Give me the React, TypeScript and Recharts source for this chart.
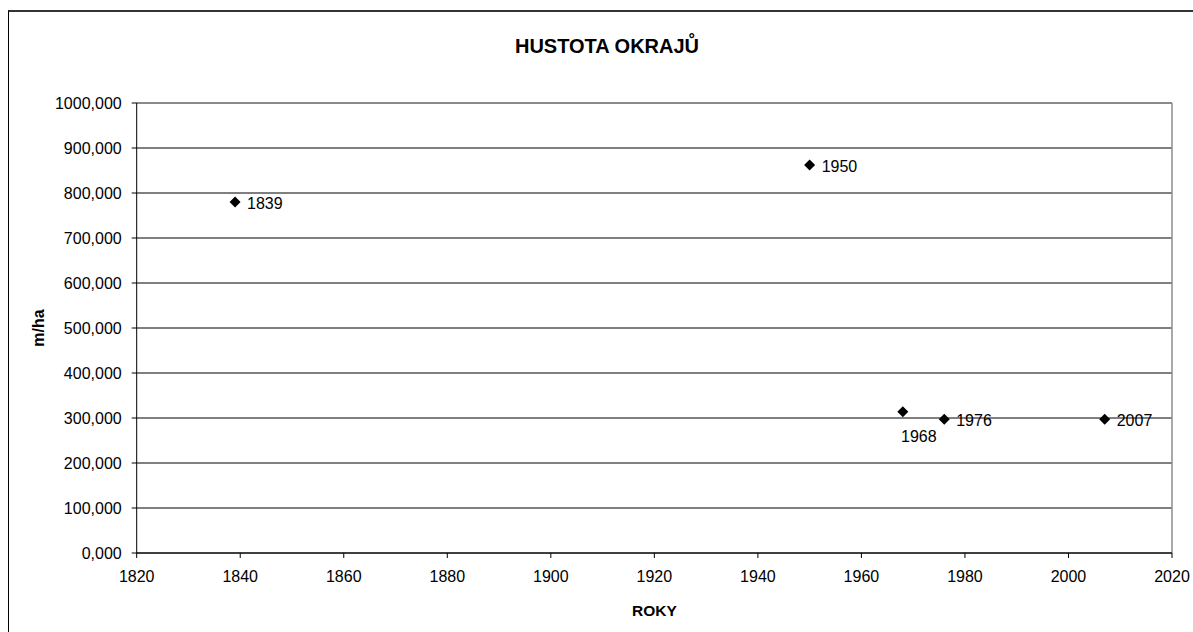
import React from 'react';
import {
  ScatterChart,
  Scatter,
  XAxis,
  YAxis,
  CartesianGrid,
  ReferenceLine,
  LabelList,
  Label
} from 'recharts';

// values (m/ha)
const years = [1839, 1950, 1968, 1976, 2007];
const densities = [780, 862, 314, 297, 297];
const pointLabels = ['1839', '1950', '1968', '1976', '2007'];

const xTicks = [1820, 1840, 1860, 1880, 1900, 1920, 1940, 1960, 1980, 2000, 2020];
const yTicks = [0, 100, 200, 300, 400, 500, 600, 700, 800, 900, 1000];

// the one label Excel put under its marker
const labelsBelow = ['1968'];

const data = years.map((year, i) => ({ year, value: densities[i], label: pointLabels[i] }));

const FONT = 'Arial, "Liberation Sans", sans-serif';

const Diamond = (props: any) => {
  const { cx, cy } = props;
  if (cx == null || cy == null) return null;
  const r = 5.5;
  return (
    <polygon
      points={`${cx},${cy - r} ${cx + r},${cy} ${cx},${cy + r} ${cx - r},${cy}`}
      fill="#000"
    />
  );
};

const PointLabel = (props: any) => {
  const { x, y, width, height, value } = props;
  const cx = x + (width || 0) / 2;
  const cy = y + (height || 0) / 2;
  if (labelsBelow.includes(String(value))) {
    return (
      <text x={cx + 16} y={cy + 25} textAnchor="middle" dominantBaseline="central" fontSize={16} fill="#000" fontFamily={FONT}>
        {value}
      </text>
    );
  }
  return (
    <text x={cx + 12} y={cy + 1} textAnchor="start" dominantBaseline="central" fontSize={16} fill="#000" fontFamily={FONT}>
      {value}
    </text>
  );
};

const fmt = (v: number) => v.toFixed(3).replace('.', ',');

export default function App() {
  // fixed to the viewport so nothing overflows into scrollbars
  return (
    <div style={{ position: 'fixed', left: 0, top: 0, width: 1193, height: 632, fontFamily: FONT, overflow: 'hidden', background: '#fff' }}>
      {/* outer chart frame, right and bottom edges fall outside the page */}
      <div
        style={{
          position: 'absolute',
          left: 8,
          top: 10,
          width: 1300,
          height: 800,
          borderTop: '2px solid #333',
          borderLeft: '1px solid #000'
        }}
      />
      <div
        style={{
          position: 'absolute',
          left: 8,
          width: 1185,
          boxSizing: 'border-box',
          top: 35,
          textAlign: 'center',
          paddingLeft: 13,
          fontSize: 20,
          fontWeight: 'bold',
          color: '#000'
        }}
      >
        HUSTOTA OKRAJŮ
      </div>
      <div style={{ position: 'absolute', left: 8, top: 8 }}>
        <ScatterChart width={1185} height={624} margin={{ top: 95, right: 21, bottom: 9, left: 0 }}>
          <CartesianGrid horizontal vertical={false} stroke="#000" strokeWidth={1} />
          <XAxis
            type="number"
            dataKey="year"
            domain={[1820, 2020]}
            ticks={xTicks}
            interval={0}
            height={70}
            tickSize={5}
            tickMargin={13}
            stroke="#000"
            tick={{ fill: '#000', fontSize: 16 }}
          >
            <Label value="ROKY" position="insideBottom" offset={7} style={{ fill: '#000', fontSize: 15.5, fontWeight: 'bold' }} />
          </XAxis>
          <YAxis
            type="number"
            dataKey="value"
            domain={[0, 1000]}
            ticks={yTicks}
            interval={0}
            width={128.7}
            tickSize={5}
            tickMargin={10}
            stroke="#000"
            tickFormatter={fmt}
            tick={{ fill: '#000', fontSize: 16 }}
          >
            <Label value="m/ha" angle={-90} position="insideLeft" offset={30} style={{ fill: '#000', fontSize: 16, fontWeight: 'bold', textAnchor: 'middle' }} />
          </YAxis>
          <ReferenceLine y={1000} stroke="#8c8c8c" strokeWidth={1.5} />
          <ReferenceLine x={2020} stroke="#8c8c8c" strokeWidth={1.5} />
          <Scatter data={data} shape={<Diamond />} isAnimationActive={false}>
            <LabelList dataKey="label" content={<PointLabel />} />
          </Scatter>
        </ScatterChart>
      </div>
    </div>
  );
}
